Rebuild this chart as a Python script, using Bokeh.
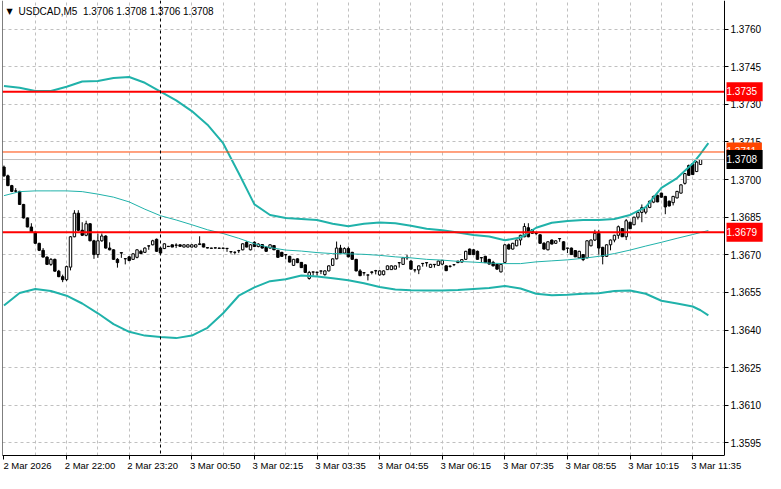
from bokeh.plotting import figure
from bokeh.models import (LinearAxis, FixedTicker, Span, Label, Range1d, BoxAnnotation,
                          ColumnDataSource, PrintfTickFormatter, Grid)
from bokeh.embed import file_html
from bokeh.resources import INLINE

# ---------------- data ----------------
symbol_title = "USDCAD,M5"
last_ohlc = ["1.3706", "1.3708", "1.3706", "1.3708"]

time_labels = ["2 Mar 2026", "2 Mar 22:00", "2 Mar 23:20", "3 Mar 00:50", "3 Mar 02:15",
               "3 Mar 03:35", "3 Mar 04:55", "3 Mar 06:15", "3 Mar 07:35", "3 Mar 08:55",
               "3 Mar 10:15", "3 Mar 11:35"]
time_label_bars = [0, 16, 32, 48, 64, 80, 96, 112, 128, 144, 160, 176]
grid_bars = [8, 16, 24, 32, 48, 56, 64, 72, 80, 88, 96, 104, 112, 120, 128, 136,
             144, 152, 160, 168, 176]
day_separator_bars = [40]
price_ticks = [1.3595, 1.3610, 1.3625, 1.3640, 1.3655, 1.3670, 1.3685, 1.3700,
               1.3715, 1.3730, 1.3745, 1.3760]
red_levels = [1.3735, 1.3679]
red_level_labels = ["1.3735", "1.3679"]
orange_level = [1.3711]
orange_level_labels = ["1.3711"]
bid_level = [1.3708]
bid_level_labels = ["1.3708"]

opens = [
    1.37050, 1.37015, 1.36976, 1.36955, 1.36953, 1.36901, 1.36847, 1.36811, 1.36790, 1.36746,
    1.36718, 1.36691, 1.36662, 1.36682, 1.36635, 1.36613, 1.36601, 1.36651, 1.36772, 1.36866,
    1.36798, 1.36778, 1.36824, 1.36756, 1.36701, 1.36756, 1.36775, 1.36727, 1.36720, 1.36682,
    1.36707, 1.36684, 1.36692, 1.36682, 1.36690, 1.36714, 1.36710, 1.36735, 1.36740, 1.36762,
    1.36727, 1.36725, 1.36734, 1.36740, 1.36738, 1.36740, 1.36731, 1.36731, 1.36731, 1.36731,
    1.36741, 1.36744, 1.36729, 1.36727, 1.36728, 1.36727, 1.36727, 1.36725, 1.36712, 1.36710,
    1.36716, 1.36720, 1.36750, 1.36720, 1.36750, 1.36733, 1.36741, 1.36730, 1.36727, 1.36737,
    1.36718, 1.36710, 1.36700, 1.36694, 1.36658, 1.36684, 1.36670, 1.36660, 1.36606, 1.36631,
    1.36630, 1.36635, 1.36621, 1.36636, 1.36658, 1.36684, 1.36727, 1.36707, 1.36725, 1.36710,
    1.36682, 1.36636, 1.36628, 1.36619, 1.36630, 1.36636, 1.36620, 1.36621, 1.36641, 1.36641,
    1.36643, 1.36668, 1.36662, 1.36688, 1.36675, 1.36640, 1.36640, 1.36665, 1.36668, 1.36650,
    1.36661, 1.36658, 1.36663, 1.36656, 1.36654, 1.36661, 1.36669, 1.36671, 1.36682, 1.36723,
    1.36720, 1.36714, 1.36688, 1.36694, 1.36682, 1.36670, 1.36662, 1.36632, 1.36670, 1.36740,
    1.36723, 1.36736, 1.36759, 1.36772, 1.36808, 1.36800, 1.36786, 1.36780, 1.36746, 1.36720,
    1.36759, 1.36746, 1.36764, 1.36752, 1.36726, 1.36727, 1.36717, 1.36688, 1.36701, 1.36688,
    1.36736, 1.36759, 1.36786, 1.36730, 1.36694, 1.36740, 1.36759, 1.36778, 1.36805, 1.36772,
    1.36830, 1.36820, 1.36850, 1.36869, 1.36870, 1.36889, 1.36910, 1.36937, 1.36946, 1.36933,
    1.36914, 1.36908, 1.36927, 1.36946, 1.36985, 1.37056, 1.37063, 1.37032, 1.37060]

highs = [
    1.37056, 1.37020, 1.36979, 1.36966, 1.36955, 1.36903, 1.36848, 1.36826, 1.36792, 1.36748,
    1.36727, 1.36694, 1.36687, 1.36685, 1.36640, 1.36621, 1.36657, 1.36775, 1.36878, 1.36878,
    1.36830, 1.36836, 1.36826, 1.36760, 1.36785, 1.36785, 1.36778, 1.36750, 1.36722, 1.36687,
    1.36710, 1.36686, 1.36695, 1.36707, 1.36722, 1.36720, 1.36730, 1.36737, 1.36760, 1.36765,
    1.36730, 1.36746, 1.36735, 1.36740, 1.36746, 1.36741, 1.36742, 1.36741, 1.36741, 1.36741,
    1.36774, 1.36744, 1.36729, 1.36728, 1.36729, 1.36728, 1.36728, 1.36727, 1.36714, 1.36714,
    1.36720, 1.36746, 1.36754, 1.36743, 1.36754, 1.36746, 1.36743, 1.36734, 1.36742, 1.36738,
    1.36720, 1.36712, 1.36702, 1.36696, 1.36684, 1.36686, 1.36671, 1.36662, 1.36636, 1.36632,
    1.36632, 1.36636, 1.36638, 1.36658, 1.36686, 1.36753, 1.36740, 1.36730, 1.36733, 1.36712,
    1.36684, 1.36643, 1.36630, 1.36621, 1.36634, 1.36640, 1.36638, 1.36638, 1.36658, 1.36658,
    1.36657, 1.36670, 1.36690, 1.36700, 1.36680, 1.36641, 1.36658, 1.36667, 1.36670, 1.36664,
    1.36663, 1.36677, 1.36680, 1.36658, 1.36658, 1.36662, 1.36675, 1.36682, 1.36716, 1.36725,
    1.36723, 1.36717, 1.36690, 1.36696, 1.36684, 1.36676, 1.36664, 1.36664, 1.36743, 1.36745,
    1.36748, 1.36760, 1.36780, 1.36826, 1.36826, 1.36802, 1.36788, 1.36782, 1.36751, 1.36754,
    1.36761, 1.36758, 1.36766, 1.36754, 1.36728, 1.36729, 1.36719, 1.36716, 1.36703, 1.36758,
    1.36761, 1.36800, 1.36800, 1.36732, 1.36742, 1.36761, 1.36780, 1.36817, 1.36807, 1.36843,
    1.36832, 1.36852, 1.36870, 1.36901, 1.36892, 1.36916, 1.36936, 1.36940, 1.36948, 1.36935,
    1.36916, 1.36935, 1.36955, 1.36981, 1.37026, 1.37060, 1.37066, 1.37074, 1.37080]

lows = [
    1.37011, 1.36974, 1.36950, 1.36948, 1.36900, 1.36845, 1.36810, 1.36788, 1.36744, 1.36715,
    1.36690, 1.36660, 1.36656, 1.36633, 1.36611, 1.36591, 1.36595, 1.36638, 1.36770, 1.36794,
    1.36775, 1.36774, 1.36754, 1.36684, 1.36688, 1.36752, 1.36725, 1.36718, 1.36680, 1.36649,
    1.36688, 1.36662, 1.36675, 1.36680, 1.36686, 1.36703, 1.36708, 1.36720, 1.36738, 1.36712,
    1.36705, 1.36723, 1.36732, 1.36731, 1.36727, 1.36732, 1.36730, 1.36730, 1.36730, 1.36730,
    1.36740, 1.36730, 1.36726, 1.36725, 1.36726, 1.36725, 1.36725, 1.36712, 1.36705, 1.36701,
    1.36707, 1.36718, 1.36730, 1.36718, 1.36731, 1.36730, 1.36725, 1.36712, 1.36725, 1.36719,
    1.36688, 1.36693, 1.36682, 1.36670, 1.36656, 1.36667, 1.36648, 1.36628, 1.36601, 1.36617,
    1.36617, 1.36623, 1.36617, 1.36634, 1.36656, 1.36682, 1.36705, 1.36705, 1.36690, 1.36681,
    1.36634, 1.36615, 1.36617, 1.36598, 1.36622, 1.36622, 1.36617, 1.36618, 1.36640, 1.36640,
    1.36642, 1.36649, 1.36660, 1.36680, 1.36642, 1.36630, 1.36623, 1.36653, 1.36653, 1.36649,
    1.36649, 1.36656, 1.36658, 1.36635, 1.36649, 1.36655, 1.36667, 1.36670, 1.36680, 1.36700,
    1.36700, 1.36681, 1.36669, 1.36668, 1.36662, 1.36654, 1.36641, 1.36630, 1.36668, 1.36721,
    1.36721, 1.36734, 1.36738, 1.36770, 1.36770, 1.36784, 1.36778, 1.36744, 1.36721, 1.36718,
    1.36742, 1.36744, 1.36752, 1.36718, 1.36707, 1.36700, 1.36691, 1.36686, 1.36675, 1.36686,
    1.36734, 1.36755, 1.36701, 1.36662, 1.36692, 1.36718, 1.36750, 1.36764, 1.36771, 1.36759,
    1.36803, 1.36818, 1.36841, 1.36830, 1.36862, 1.36886, 1.36906, 1.36910, 1.36928, 1.36862,
    1.36893, 1.36897, 1.36925, 1.36944, 1.36980, 1.37015, 1.37018, 1.37030, 1.37060]

closes = [
    1.37015, 1.36976, 1.36953, 1.36954, 1.36901, 1.36847, 1.36811, 1.36790, 1.36746, 1.36718,
    1.36691, 1.36662, 1.36682, 1.36635, 1.36613, 1.36601, 1.36653, 1.36772, 1.36866, 1.36798,
    1.36778, 1.36824, 1.36756, 1.36701, 1.36756, 1.36775, 1.36727, 1.36720, 1.36682, 1.36669,
    1.36709, 1.36685, 1.36677, 1.36704, 1.36720, 1.36705, 1.36727, 1.36736, 1.36756, 1.36714,
    1.36707, 1.36744, 1.36733, 1.36731, 1.36739, 1.36734, 1.36740, 1.36740, 1.36740, 1.36740,
    1.36744, 1.36731, 1.36727, 1.36726, 1.36727, 1.36726, 1.36726, 1.36726, 1.36713, 1.36710,
    1.36717, 1.36744, 1.36731, 1.36740, 1.36733, 1.36743, 1.36727, 1.36714, 1.36740, 1.36720,
    1.36690, 1.36694, 1.36701, 1.36671, 1.36682, 1.36669, 1.36649, 1.36630, 1.36630, 1.36632,
    1.36631, 1.36636, 1.36636, 1.36656, 1.36684, 1.36727, 1.36707, 1.36725, 1.36692, 1.36682,
    1.36636, 1.36617, 1.36629, 1.36620, 1.36632, 1.36637, 1.36636, 1.36636, 1.36656, 1.36656,
    1.36656, 1.36669, 1.36688, 1.36690, 1.36643, 1.36640, 1.36656, 1.36666, 1.36669, 1.36662,
    1.36662, 1.36675, 1.36678, 1.36637, 1.36655, 1.36661, 1.36675, 1.36681, 1.36714, 1.36701,
    1.36701, 1.36682, 1.36689, 1.36669, 1.36663, 1.36656, 1.36643, 1.36662, 1.36740, 1.36723,
    1.36746, 1.36759, 1.36778, 1.36813, 1.36772, 1.36786, 1.36785, 1.36746, 1.36723, 1.36752,
    1.36743, 1.36756, 1.36765, 1.36720, 1.36727, 1.36701, 1.36692, 1.36714, 1.36681, 1.36756,
    1.36759, 1.36786, 1.36727, 1.36694, 1.36740, 1.36759, 1.36778, 1.36812, 1.36772, 1.36836,
    1.36804, 1.36850, 1.36869, 1.36888, 1.36889, 1.36914, 1.36933, 1.36911, 1.36930, 1.36891,
    1.36895, 1.36933, 1.36953, 1.36979, 1.37024, 1.37017, 1.37020, 1.37070, 1.37080]

band_bars = [0, 4, 8, 12, 16, 20, 24, 28, 32, 36, 40, 44, 48, 52, 56, 60, 64, 68, 72, 76,
             80, 84, 88, 92, 96, 100, 104, 108, 112, 116, 120, 124, 128, 132, 136, 140,
             144, 148, 152, 156, 160, 164, 168, 172, 176, 178, 180]
bb_upper = [1.37373, 1.37366, 1.37353, 1.37353, 1.37370, 1.37391, 1.37393, 1.37405, 1.37409,
            1.37386, 1.37351, 1.37316, 1.37273, 1.37219, 1.37145, 1.37025, 1.36901, 1.36859,
            1.36847, 1.36843, 1.36839, 1.36824, 1.36814, 1.36824, 1.36829, 1.36826, 1.36816,
            1.36804, 1.36798, 1.36789, 1.36779, 1.36773, 1.36758, 1.36769, 1.36808, 1.36828,
            1.36835, 1.36839, 1.36839, 1.36843, 1.36859, 1.36890, 1.36967, 1.37006, 1.37064,
            1.37103, 1.37145]
bb_middle = [1.36936, 1.36952, 1.36955, 1.36955, 1.36955, 1.36952, 1.36942, 1.36930, 1.36911,
             1.36882, 1.36856, 1.36839, 1.36820, 1.36800, 1.36785, 1.36766, 1.36744, 1.36729,
             1.36719, 1.36715, 1.36709, 1.36705, 1.36704, 1.36702, 1.36698, 1.36692, 1.36688,
             1.36682, 1.36679, 1.36674, 1.36671, 1.36667, 1.36665, 1.36665, 1.36672, 1.36676,
             1.36680, 1.36686, 1.36694, 1.36705, 1.36719, 1.36735, 1.36750, 1.36766, 1.36781,
             1.36789, 1.36797]
bb_lower = [1.36498, 1.36548, 1.36564, 1.36556, 1.36537, 1.36506, 1.36467, 1.36424, 1.36393,
            1.36378, 1.36372, 1.36368, 1.36378, 1.36409, 1.36467, 1.36537, 1.36570, 1.36595,
            1.36603, 1.36618, 1.36614, 1.36607, 1.36599, 1.36587, 1.36572, 1.36562, 1.36559,
            1.36558, 1.36558, 1.36560, 1.36564, 1.36568, 1.36576, 1.36566, 1.36545, 1.36539,
            1.36541, 1.36545, 1.36547, 1.36556, 1.36558, 1.36545, 1.36517, 1.36506, 1.36494,
            1.36479, 1.36459]

# ---------------- derived ----------------
bars = list(range(len(opens)))
tops = [max(o, c) for o, c in zip(opens, closes)]
bottoms = [min(o, c) for o, c in zip(opens, closes)]
fills = ["white" if c >= o else "black" for o, c in zip(opens, closes)]

FONT = "Liberation Sans"
GRID = "#c0c0c0"
BB = "#20b2aa"

W, H = 765, 473
X0, XA = -0.375, 184.125          # chart area: left edge, price-scale edge
AXIS_PX = 722                      # pixels from frame left to the price scale
X1 = X0 + (W - 2) * (XA - X0) / AXIS_PX
Y0, Y1 = 1.35900, 1.37714

p = figure(width=W, height=H, x_range=Range1d(X0, X1), y_range=Range1d(Y0, Y1),
           x_axis_location=None, y_axis_location=None, output_backend="svg",
           toolbar_location=None, min_border_left=2, min_border_right=0,
           min_border_top=0, min_border_bottom=16)
p.outline_line_color = None
p.grid.visible = False
p.background_fill_color = "white"
p.border_fill_color = "white"

p.add_layout(Grid(dimension=0, ticker=FixedTicker(ticks=grid_bars),
                  grid_line_color=GRID, grid_line_dash="3 3"))
p.add_layout(Grid(dimension=1, ticker=FixedTicker(ticks=price_ticks),
                  grid_line_color=GRID, grid_line_dash="3 3"))
# blank the price-scale column (right of the chart area)
p.add_layout(BoxAnnotation(left=XA, fill_color="white", fill_alpha=1.0, line_color=None,
                           level="underlay"))

for b in day_separator_bars:
    p.add_layout(Span(location=b, dimension="height", line_color="black",
                      line_dash="3 3", line_width=1))
p.add_layout(Span(location=X0, dimension="height", line_color="black", line_width=1))

src = ColumnDataSource(dict(x=bars, h=highs, l=lows, top=tops, bottom=bottoms, fill=fills))
p.segment(x0="x", y0="h", x1="x", y1="l", source=src, line_color="black", line_width=1)
p.vbar(x="x", width=0.62, top="top", bottom="bottom", source=src,
       fill_color="fill", line_color="black", line_width=1)

p.line(band_bars, bb_upper, line_color=BB, line_width=2)
p.line(band_bars, bb_middle, line_color=BB, line_width=1)
p.line(band_bars, bb_lower, line_color=BB, line_width=2)

# horizontal price levels, limited to the chart area
p.segment(x0=X0, y0=bid_level, x1=XA, y1=bid_level, line_color="#c0c0c0", line_width=1)
p.segment(x0=X0, y0=orange_level, x1=XA, y1=orange_level, line_color="#ff4500", line_width=1)
p.segment(x0=X0, y0=red_levels, x1=XA, y1=red_levels, line_color="#ff0000", line_width=2)

# right price axis, fixed at the price-scale edge
yax = LinearAxis(ticker=FixedTicker(ticks=price_ticks, minor_ticks=[]),
                 formatter=PrintfTickFormatter(format="%.4f"), fixed_location=XA)
yax.major_tick_out = 4
yax.major_tick_in = 0
yax.minor_tick_out = 0
yax.minor_tick_in = 0
yax.major_label_standoff = 2
yax.major_label_text_font = FONT
yax.major_label_text_font_size = "10px"
yax.major_label_text_color = "black"
yax.axis_line_color = "black"
p.add_layout(yax, "right")

# bottom: ticks axis + label axis (labels start at the tick)
tick_ax = LinearAxis(ticker=FixedTicker(ticks=time_label_bars, minor_ticks=[]),
                     bounds=(X0, XA),
                     major_tick_out=4, major_tick_in=0, minor_tick_out=0, minor_tick_in=0,
                     major_label_text_alpha=0, major_label_text_font_size="0px",
                     major_label_standoff=0, axis_line_color="black")
p.add_layout(tick_ax, "below")
label_pos = [b + 6 for b in time_label_bars]
lab_ax = LinearAxis(ticker=FixedTicker(ticks=label_pos, minor_ticks=[]),
                    major_label_overrides={pos: t for pos, t in zip(label_pos, time_labels)},
                    axis_line_color=None, major_tick_line_color=None, minor_tick_line_color=None,
                    major_tick_out=0, major_tick_in=0, minor_tick_out=0, minor_tick_in=0,
                    major_label_standoff=0, major_label_text_font=FONT,
                    major_label_text_font_size="9.5px", major_label_text_color="black")
p.add_layout(lab_ax, "below")


def value_box(y, text, bg):
    p.add_layout(Label(x=XA, y=y, x_offset=2, text=text + "\u00a0\u00a0",
                       text_color="white", text_font=FONT, text_font_size="10px",
                       text_baseline="middle", text_align="left",
                       background_fill_color=bg, padding=(0, 4)))


value_box(orange_level[0], orange_level_labels[0], "#ff4500")
value_box(bid_level[0], bid_level_labels[0], "black")
for lv, lt in zip(red_levels, red_level_labels):
    value_box(lv, lt, "#ff0000")

# title
p.add_layout(Label(x=X0, y=Y1, x_offset=4, y_offset=-11, text="\u25bc", text_color="black",
                   text_font="DejaVu Sans", text_font_size="8px", text_baseline="middle"))
p.add_layout(Label(x=X0, y=Y1, x_offset=16, y_offset=-11,
                   text=symbol_title + "\u00a0\u00a0" + " ".join(last_ohlc),
                   text_color="black", text_font=FONT, text_font_size="10px",
                   text_baseline="middle"))

open("out.html", "w").write(file_html(p, INLINE))
